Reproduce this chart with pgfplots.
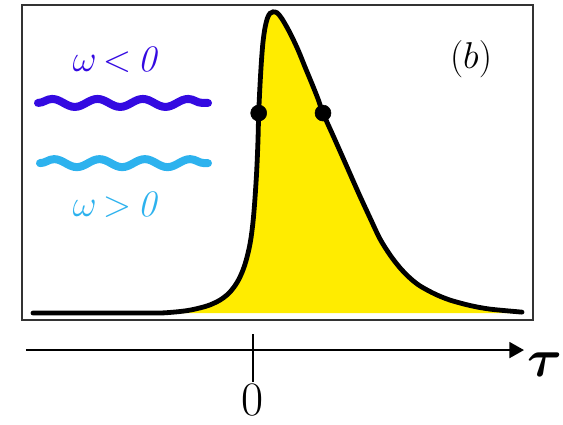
\documentclass[border=0pt]{standalone}
\usepackage{fix-cm}
\usepackage{bm}
\usepackage{pgfplots}
\pgfplotsset{compat=1.18}
\usetikzlibrary{decorations.pathmorphing,arrows.meta}
\definecolor{pulseyellow}{RGB}{255,236,0}
\definecolor{wavepurple}{RGB}{52,10,225}
\definecolor{wavecyan}{RGB}{45,178,238}

% pulse profile, tau in arbitrary units, height normalised to the peak
\pgfplotstableread{
t       y
-2.200  0.000
-1.030  0.000
-0.830  0.002
-0.660  0.008
-0.530  0.017
-0.430  0.027
-0.330  0.043
-0.250  0.063
-0.190  0.086
-0.140  0.113
-0.100  0.143
-0.070  0.173
-0.040  0.213
-0.020  0.249
 0.000  0.302
 0.015  0.359
 0.030  0.432
 0.040  0.492
 0.050  0.575
 0.057  0.664
 0.070  0.757
 0.085  0.840
 0.100  0.900
 0.120  0.947
 0.145  0.980
 0.170  0.995
 0.200  1.000
 0.240  0.997
 0.290  0.977
 0.370  0.930
 0.450  0.874
 0.520  0.817
 0.590  0.761
 0.650  0.711
 0.700  0.664
 0.820  0.575
 0.940  0.485
 1.060  0.395
 1.170  0.316
 1.270  0.246
 1.370  0.193
 1.470  0.150
 1.570  0.116
 1.670  0.090
 1.820  0.063
 1.970  0.043
 2.170  0.025
 2.370  0.013
 2.690  0.003
}\pulse

\begin{document}
\begin{tikzpicture}
\begin{axis}[
    width=383.25pt, height=236.25pt, scale only axis,
    xmin=-2.31, xmax=2.80, ymin=-0.023, ymax=1.023,
    ticks=none, clip=false,
    axis line style={black!80, line width=0.9pt},
]
    \addplot[fill=pulseyellow, draw=none, smooth, tension=0.5] table[x=t, y=y] {\pulse} \closedcycle;
    \addplot[black, line width=3.6pt, smooth, tension=0.5, line cap=round] table[x=t, y=y] {\pulse};
    \addplot[only marks, mark=*, mark size=6pt, black] coordinates {(0.057,0.664) (0.70,0.664)};
\end{axis}
% annotations in the same units as the axis (75pt per tau unit, 225.75pt per height unit)
\begin{scope}[x=75pt, y=225.75pt, shift={(173.25pt,5.19pt)}]
  \draw[wavepurple, line width=6pt, line cap=round, decorate,
        decoration={snake, segment length=34pt, amplitude=3pt}] (-2.15,0.698) -- (-0.45,0.698);
  \draw[wavecyan, line width=6pt, line cap=round, decorate,
        decoration={snake, segment length=34pt, amplitude=3pt}] (-2.13,0.498) -- (-0.45,0.498);
  \node[text=wavepurple, font=\fontsize{28}{30}\selectfont] at (-1.36,0.84) {$\omega\mkern-2mu<\mkern-2mu\mathit{0}$};
  \node[text=wavecyan, font=\fontsize{28}{30}\selectfont] at (-1.36,0.36) {$\omega\mkern-2mu>\mkern-2mu\mathit{0}$};
  \node[font=\fontsize{28}{30}\selectfont] at (2.18,0.844) {$(b)$};
  \draw[line width=1.5pt, -{Triangle[length=11pt, width=12pt]}] (-2.27,-0.123) -- (2.71,-0.123);
  \draw[line width=1.5pt] (0,-0.070) -- (0,-0.229);
  \node[inner sep=0pt, font=\fontsize{36}{38}\selectfont] at (0,-0.288) {0};
  \node[inner sep=0pt, font=\fontsize{40}{40}\selectfont] at (2.92,-0.173) {$\bm{\tau}$};
  \pgfresetboundingbox
  \path (-2.53,-0.369) rectangle (3.10,1.040);
\end{scope}
\end{tikzpicture}
\end{document}
